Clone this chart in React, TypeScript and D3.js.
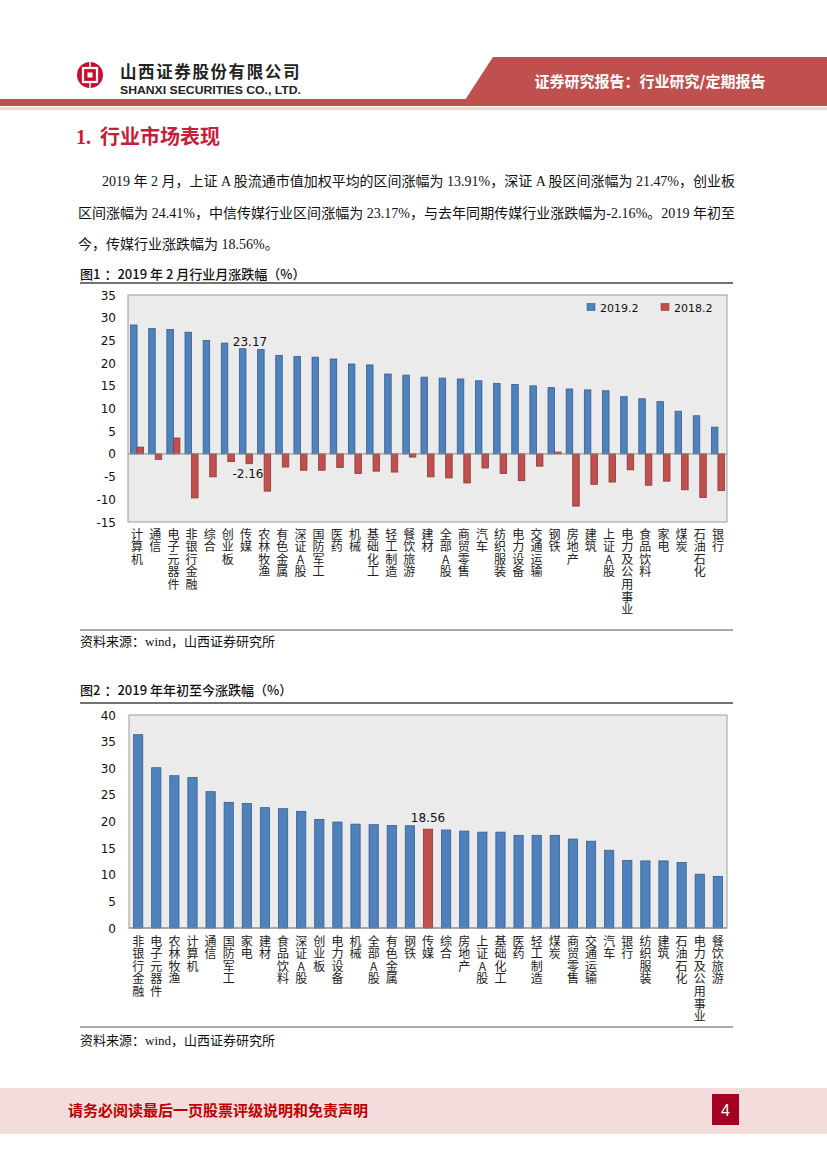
import React from 'react';
import * as d3 from 'd3';

// 图1 数据
const cats1 = ['计算机', '通信', '电子元器件', '非银行金融', '综合', '创业板', '传媒', '农林牧渔', '有色金属', '深证A股', '国防军工', '医药', '机械', '基础化工', '轻工制造', '餐饮旅游', '建材', '全部A股', '商贸零售', '汽车', '纺织服装', '电力设备', '交通运输', '钢铁', '房地产', '建筑', '上证A股', '电力及公用事业', '食品饮料', '家电', '煤炭', '石油石化', '银行'];
const feb2019 = [28.4, 27.6, 27.4, 26.8, 25.0, 24.41, 23.17, 23.0, 21.7, 21.47, 21.3, 20.9, 19.8, 19.6, 17.6, 17.35, 16.9, 16.7, 16.5, 16.1, 15.5, 15.3, 15.0, 14.6, 14.3, 14.1, 13.91, 12.6, 12.15, 11.5, 9.4, 8.4, 5.9];
const feb2018 = [1.5, -1.2, 3.5, -9.7, -5.05, -1.7, -2.16, -8.2, -2.9, -3.6, -3.6, -3.0, -4.3, -3.8, -4.0, -0.7, -5.05, -5.3, -6.4, -3.1, -4.3, -5.9, -2.7, 0.4, -11.5, -6.7, -6.2, -3.5, -6.9, -6.0, -7.9, -9.6, -8.1];
const seriesNames = ['2019.2', '2018.2'];
const yTicks1 = [-15, -10, -5, 0, 5, 10, 15, 20, 25, 30, 35];

// 图2 数据
const cats2 = ['非银行金融', '电子元器件', '农林牧渔', '计算机', '通信', '国防军工', '家电', '建材', '食品饮料', '深证A股', '创业板', '电力设备', '机械', '全部A股', '有色金属', '钢铁', '传媒', '综合', '房地产', '上证A股', '基础化工', '医药', '轻工制造', '煤炭', '商贸零售', '交通运输', '汽车', '银行', '纺织服装', '建筑', '石油石化', '电力及公用事业', '餐饮旅游'];
const ytd2019 = [36.3, 30.1, 28.6, 28.25, 25.6, 23.6, 23.4, 22.6, 22.4, 21.9, 20.4, 19.9, 19.5, 19.4, 19.25, 19.2, 18.56, 18.4, 18.2, 18.0, 18.0, 17.4, 17.4, 17.4, 16.7, 16.3, 14.6, 12.7, 12.6, 12.6, 12.3, 10.1, 9.7];
const yTicks2 = [0, 5, 10, 15, 20, 25, 30, 35, 40];

const BLUE = '#4f81bd';
const BLUE_EDGE = '#385d8a';
const RED = '#c0504d';
const RED_EDGE = '#8c3836';
const CJK = '"Noto Sans CJK SC", sans-serif';
const SERIF = '"Liberation Serif", "Noto Sans CJK SC", serif';
const TICK = '"DejaVu Sans", sans-serif';

// vertical category label, one text element per label
const VLabel: React.FC<{ text: string; x: number; top: number }> = ({ text, x, top }) => (
  <text x={x} y={top} fontSize={12} fontFamily={CJK} fill="#222" letterSpacing={0.6}
    style={{ writingMode: 'vertical-rl', textOrientation: 'upright' } as React.CSSProperties}>
    {text}
  </text>
);

const Chart1: React.FC = () => {
  const left = 128, right = 727, top = 295, bottom = 522;
  const x = d3.scaleBand<string>().domain(cats1).range([left, right]).paddingInner(0.28).paddingOuter(0.14);
  const xs = d3.scaleBand<string>().domain(seriesNames).range([0, x.bandwidth()]);
  const y = d3.scaleLinear().domain([-15, 35]).range([bottom, top]);
  const mediaIdx = cats1.indexOf('传媒');
  const mx = x('传媒')! + x.bandwidth() / 2;
  return (
    <g>
      <rect x={left} y={top} width={right - left} height={bottom - top} fill="#ebebeb" stroke="#9c9c9c" strokeWidth={1} />
      {yTicks1.map(t => (
        <text key={t} x={116} y={y(t) + 4.5} textAnchor="end" fontSize={12} fontFamily={TICK} fill="#111">{t}</text>
      ))}
      {cats1.map((c, i) => {
        const v1 = feb2019[i], v2 = feb2018[i];
        return (
          <g key={c}>
            <rect x={x(c)! + xs('2019.2')!} y={y(Math.max(0, v1))} width={xs.bandwidth()} height={Math.abs(y(v1) - y(0))} fill={BLUE} stroke={BLUE_EDGE} strokeWidth={0.8} />
            <rect x={x(c)! + xs('2018.2')!} y={y(Math.max(0, v2))} width={xs.bandwidth()} height={Math.abs(y(v2) - y(0))} fill={RED} stroke={RED_EDGE} strokeWidth={0.8} />
          </g>
        );
      })}
      <line x1={left} x2={right} y1={y(0)} y2={y(0)} stroke="#8a8a8a" strokeWidth={1} />
      <text x={mx + 4} y={y(feb2019[mediaIdx]) - 3} textAnchor="middle" fontSize={12} fontFamily={TICK} fill="#111">{feb2019[mediaIdx].toFixed(2)}</text>
      <text x={mx + 2} y={y(feb2018[mediaIdx]) + 14} textAnchor="middle" fontSize={12} fontFamily={TICK} fill="#111">{feb2018[mediaIdx].toFixed(2)}</text>
      {/* legend */}
      <rect x={587} y={303.5} width={8} height={7} fill={BLUE} stroke={BLUE_EDGE} strokeWidth={0.6} />
      <text x={600} y={311.5} fontSize={11} fontFamily={TICK} fill="#111">{seriesNames[0]}</text>
      <rect x={661} y={303.5} width={8} height={7} fill={RED} stroke={RED_EDGE} strokeWidth={0.6} />
      <text x={674} y={311.5} fontSize={11} fontFamily={TICK} fill="#111">{seriesNames[1]}</text>
      {cats1.map(c => (
        <VLabel key={c} text={c} x={x(c)! + x.bandwidth() / 2} top={528} />
      ))}
    </g>
  );
};

const Chart2: React.FC = () => {
  const left = 129, right = 727, top = 715, bottom = 928;
  const x = d3.scaleBand<string>().domain(cats2).range([left, right]).paddingInner(0.49).paddingOuter(0.25);
  const y = d3.scaleLinear().domain([0, 40]).range([bottom, top]);
  const mi = cats2.indexOf('传媒');
  return (
    <g>
      <rect x={left} y={top} width={right - left} height={bottom - top} fill="#ebebeb" stroke="#9c9c9c" strokeWidth={1} />
      {yTicks2.map(t => (
        <text key={t} x={116} y={y(t) + 4.5} textAnchor="end" fontSize={12} fontFamily={TICK} fill="#111">{t}</text>
      ))}
      {cats2.map((c, i) => (
        <rect key={c} x={x(c)!} y={y(ytd2019[i])} width={x.bandwidth()} height={y(0) - y(ytd2019[i])}
          fill={i === mi ? RED : BLUE} stroke={i === mi ? RED_EDGE : BLUE_EDGE} strokeWidth={0.8} />
      ))}
      <line x1={left} x2={right} y1={y(0)} y2={y(0)} stroke="#8a8a8a" strokeWidth={1} />
      <text x={x('传媒')! + x.bandwidth() / 2} y={y(ytd2019[mi]) - 7} textAnchor="middle" fontSize={12} fontFamily={TICK} fill="#111">{ytd2019[mi].toFixed(2)}</text>
      {cats2.map(c => (
        <VLabel key={c} text={c} x={x(c)! + x.bandwidth() / 2} top={935} />
      ))}
    </g>
  );
};

const App: React.FC = () => {
  const body1 = '2019 年 2 月，上证 A 股流通市值加权平均的区间涨幅为 13.91%，深证 A 股区间涨幅为 21.47%，创业板';
  const body2 = '区间涨幅为 24.41%，中信传媒行业区间涨幅为 23.17%，与去年同期传媒行业涨跌幅为-2.16%。2019 年初至';
  const body3 = '今，传媒行业涨跌幅为 18.56%。';
  return (
    <svg width={827} height={1169} style={{ position: 'absolute', left: 0, top: 0, background: '#fff' }}>
      {/* header */}
      <polygon points="493,57 827,57 827,100 465,100" fill={RED} />
      <rect x={0} y={99} width={827} height={7} fill={RED} />
      <rect x={0} y={107} width={827} height={3} fill="#f3d7d7" />
      <text x={650} y={87} textAnchor="middle" fontSize={15} fontWeight="bold" fontFamily={CJK} fill="#fff">证券研究报告：行业研究/定期报告</text>
      <circle cx={90} cy={75} r={13} fill="#c8102e" />
      <rect x={83} y={68} width={14} height={14} fill="none" stroke="#fff" strokeWidth={2.2} />
      <rect x={87.5} y={72.5} width={5} height={5} fill="#fff" />
      <line x1={90} y1={62} x2={90} y2={68} stroke="#fff" strokeWidth={1.5} />
      <line x1={90} y1={82} x2={90} y2={88} stroke="#fff" strokeWidth={1.5} />
      <text x={120} y={78} fontSize={16.5} fontWeight="bold" fontFamily={CJK} fill="#222" letterSpacing={1.6}>山西证券股份有限公司</text>
      <text x={120} y={94} fontSize={11.5} fontWeight="bold" fontFamily='"Liberation Sans", Arial, sans-serif' fill="#222" textLength={181} lengthAdjust="spacingAndGlyphs">SHANXI SECURITIES CO., LTD.</text>

      {/* section title */}
      <text x={76} y={144} fontSize={20} fontWeight="bold" fontFamily={SERIF} fill="#c41e3a">
        1.<tspan dx={9}>行业市场表现</tspan>
      </text>

      {/* body */}
      <text x={102} y={186} fontSize={14} fontFamily={SERIF} fill="#111" textLength={633} lengthAdjust="spacing">{body1}</text>
      <text x={78} y={218} fontSize={14} fontFamily={SERIF} fill="#111" textLength={657} lengthAdjust="spacing">{body2}</text>
      <text x={78} y={249} fontSize={14} fontFamily={SERIF} fill="#111">{body3}</text>

      {/* figure 1 */}
      <text x={80} y={279} fontSize={13} fontFamily={CJK} fontWeight={500} fill="#111">图1<tspan dx={4}>：2019 年 2 月行业月涨跌幅（%）</tspan></text>
      <line x1={80} x2={733} y1={283} y2={283} stroke="#444" strokeWidth={1.5} />
      <Chart1 />
      <line x1={80} x2={733} y1={630} y2={630} stroke="#555" strokeWidth={1} />
      <text x={80} y={646} fontSize={13} fontFamily={SERIF} fill="#111">资料来源：wind，山西证券研究所</text>

      {/* figure 2 */}
      <text x={80} y={695} fontSize={13} fontFamily={CJK} fontWeight={500} fill="#111">图2<tspan dx={4}>：2019 年年初至今涨跌幅（%）</tspan></text>
      <line x1={80} x2={733} y1={703} y2={703} stroke="#444" strokeWidth={1.5} />
      <Chart2 />
      <line x1={80} x2={733} y1={1027} y2={1027} stroke="#555" strokeWidth={1} />
      <text x={80} y={1045} fontSize={13} fontFamily={SERIF} fill="#111">资料来源：wind，山西证券研究所</text>

      {/* footer */}
      <rect x={0} y={1088} width={827} height={46} fill="#f2dcdc" />
      <text x={68} y={1116} fontSize={15} fontWeight="bold" fontFamily={CJK} fill="#c00000">请务必阅读最后一页股票评级说明和免责声明</text>
      <rect x={712} y={1094} width={27} height={31} fill="#a50021" />
      <text x={725.5} y={1116} textAnchor="middle" fontSize={16} fontFamily='"Liberation Sans Narrow", "Liberation Sans", sans-serif' fill="#fff">4</text>
    </svg>
  );
};

export default App;
